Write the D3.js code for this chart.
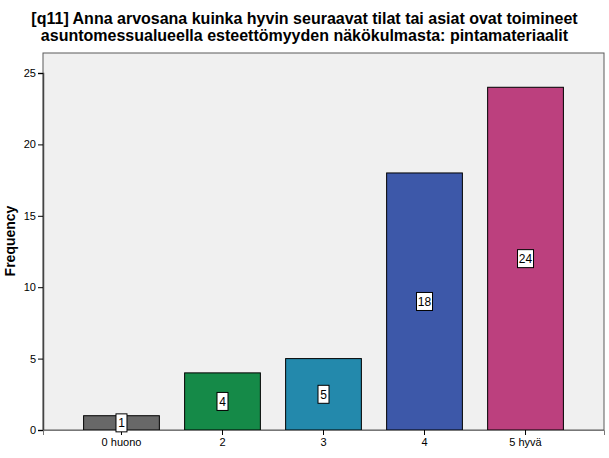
<!DOCTYPE html>
<html>
<head>
<meta charset="utf-8">
<script src="https://cdn.jsdelivr.net/npm/d3@7"></script>
<style>
  body { margin: 0; background: #fff; }
  svg { display: block; font-family: "Liberation Sans", Arial, sans-serif; }
</style>
</head>
<body>
<div id="chart"></div>
<script>
// arvosanat ja frekvenssit
const categories = ["0 huono", "2", "3", "4", "5 hyvä"];
const frequencies = [1, 4, 5, 18, 24];
const barColors = ["#686868", "#158a48", "#2389ac", "#3d58a9", "#bc407e"];
const yTicks = [0, 5, 10, 15, 20, 25];

const titleLines = [
  "[q11] Anna arvosana kuinka hyvin seuraavat tilat tai asiat ovat toimineet",
  "asuntomessualueella esteettömyyden näkökulmasta: pintamateriaalit"
];

const width = 609;
const height = 458;
const plot = {left: 43, right: 604, top: 53, bottom: 430};

let svg = d3.select("#chart").append("svg")
  .attr("width", width)
  .attr("height", height);

// otsikko
svg.append("g").selectAll("text")
  .data(titleLines)
  .join("text")
  .attr("x", width / 2)
  .attr("y", (d, i) => 24 + i * 17)
  .attr("text-anchor", "middle")
  .style("font-size", "16px")
  .style("font-weight", "bold")
  .text(d => d);

let xScale = d3.scaleBand()
  .domain(categories)
  .range([plot.left, plot.right])
  .paddingInner(0.25)
  .paddingOuter(0.402);

let yScale = d3.scaleLinear()
  .domain([0, 25])
  .range([plot.bottom, 73]);

// taustalaatikko
svg.append("rect")
  .attr("x", plot.left)
  .attr("y", plot.top)
  .attr("width", plot.right - plot.left)
  .attr("height", plot.bottom - plot.top)
  .attr("fill", "#f0f0f0")
  .attr("stroke", "#5a5a5a")
  .attr("stroke-width", 1);

// pylväät
svg.append("g").selectAll("rect")
  .data(frequencies)
  .join("rect")
  .attr("x", (d, i) => xScale(categories[i]))
  .attr("y", d => yScale(d))
  .attr("width", xScale.bandwidth())
  .attr("height", d => yScale(0) - yScale(d))
  .attr("fill", (d, i) => barColors[i])
  .attr("stroke", "#000")
  .attr("stroke-width", 1);

// akselit
let yAxis = svg.append("g")
  .attr("transform", `translate(${plot.left},0)`)
  .call(d3.axisLeft(yScale).tickValues(yTicks).tickSize(5).tickPadding(2));

let xAxis = svg.append("g")
  .attr("transform", `translate(0,${plot.bottom})`)
  .call(d3.axisBottom(xScale).tickSize(5).tickPadding(3));

[yAxis, xAxis].forEach(a => {
  a.select(".domain").attr("stroke", "#444").attr("stroke-width", 1.5);
  a.selectAll(".tick line").attr("stroke", "#000");
  a.selectAll(".tick text")
    .attr("fill", "#000")
    .style("font-size", "11px")
    .style("font-family", "'Liberation Sans', Arial, sans-serif");
});
xAxis.select(".domain").attr("stroke", "#777").attr("stroke-width", 1);

svg.append("text")
  .attr("transform", `translate(15,241) rotate(-90)`)
  .attr("text-anchor", "middle")
  .style("font-size", "14px")
  .style("font-weight", "bold")
  .text("Frequency");

// arvolaput
let labels = svg.append("g").selectAll("g")
  .data(frequencies)
  .join("g")
  .attr("transform", (d, i) =>
    `translate(${xScale(categories[i]) + xScale.bandwidth() / 2},${yScale(d / 2)})`);

labels.append("rect")
  .attr("x", d => String(d).length > 1 ? -8 : -5.5)
  .attr("y", -9)
  .attr("width", d => String(d).length > 1 ? 16 : 11)
  .attr("height", 18)
  .attr("fill", "#fff")
  .attr("stroke", "#000")
  .attr("stroke-width", 1);

labels.append("text")
  .attr("text-anchor", "middle")
  .attr("dy", "0.36em")
  .style("font-size", "12px")
  .text(d => d);
</script>
</body>
</html>
